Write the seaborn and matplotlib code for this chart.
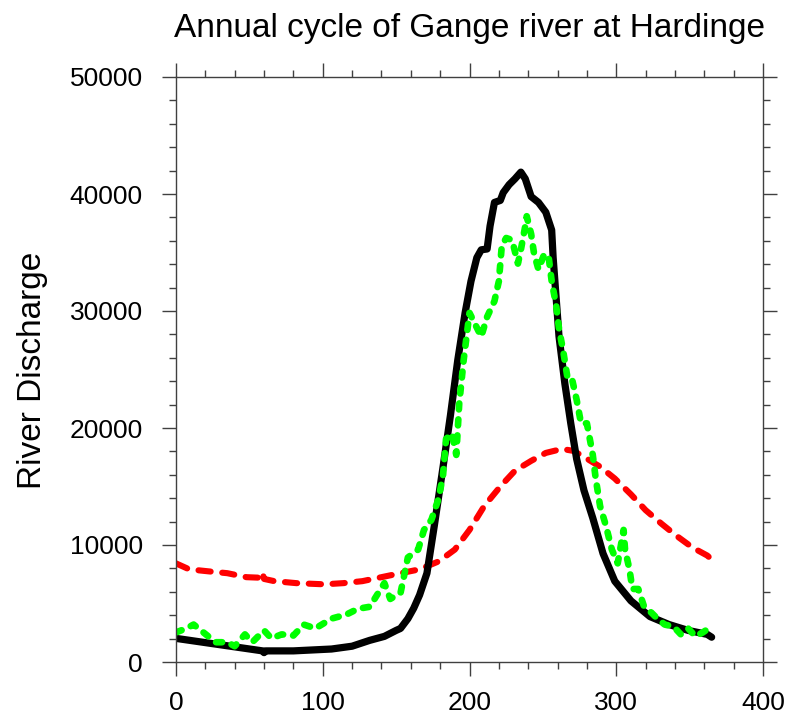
import matplotlib
matplotlib.use('Agg')
import matplotlib.pyplot as plt
import seaborn as sns
from matplotlib.ticker import MultipleLocator

sns.set_style('white')
plt.rcParams['font.family'] = ['Liberation Sans', 'DejaVu Sans']
plt.rcParams['text.color'] = 'black'
plt.rcParams['xtick.color'] = 'black'
plt.rcParams['ytick.color'] = 'black'

title = "Annual cycle of Gange river at Hardinge"
ylabel = "River Discharge"
xticks = [0, 100, 200, 300, 400]
yticks = [0, 10000, 20000, 30000, 40000, 50000]

# Observed discharge (black solid)
obs_day = [0, 59, 60, 61, 80, 106, 120, 132, 142, 150, 153, 158, 162, 166, 171, 176,
           182, 187, 192, 197, 201, 205, 208, 212, 214, 217, 221, 223, 227, 231,
           235, 238, 242, 247, 252, 256, 257, 259, 261, 265, 269, 273, 278, 284,
           291, 299, 310, 323, 336, 349, 362, 365]
obs_q = [2020, 950, 800, 950, 950, 1110, 1350, 1850, 2190, 2700, 2870, 3700, 4600,
         5730, 7590, 11630, 16690, 21070, 25800, 29840, 32540, 34560, 35230, 35300,
         37260, 39280, 39450, 40120, 40800, 41300, 41870, 41300, 39780, 39280,
         38440, 36920, 34560, 31190, 27820, 23770, 20400, 17360, 14670, 12310,
         9270, 6910, 5230, 3880, 3200, 2700, 2360, 2120]

# Model 1 (green short dashes)
m1_day = [0, 7, 12, 17, 22, 27, 35, 40, 47, 52, 60, 65, 72, 80, 87, 95, 106, 116,
          124, 132, 137, 142, 146, 153, 158, 165, 169, 174, 179, 182, 184, 188,
          191, 193, 196, 200, 204, 208, 212, 217, 220, 222, 225, 229, 233, 235,
          238, 239, 242, 244, 247, 251, 254, 256, 259, 261, 264, 267, 270, 273,
          276, 280, 282, 284, 286, 289, 293, 297, 301, 305, 306, 309, 311, 315,
          319, 324, 328, 333, 339, 344, 349, 354, 359, 363]
m1_q = [2530, 2870, 3200, 2700, 2190, 1690, 1690, 1350, 2360, 1690, 2700, 2020,
        2360, 2260, 3200, 2870, 3710, 4050, 4550, 4720, 5730, 6740, 5390, 5900,
        8930, 9610, 11290, 12140, 13990, 16010, 19050, 19550, 17700, 22080,
        25790, 29840, 28830, 27810, 29500, 30850, 32540, 35570, 36240, 36070,
        34050, 35230, 37260, 38100, 36580, 34900, 33550, 34900, 34560, 32540,
        30510, 28490, 26470, 24110, 24110, 22420, 20400, 20400, 19050, 17700,
        15680, 13320, 11630, 9610, 8430, 11290, 9610, 7920, 6240, 6240, 4720,
        4210, 3710, 3200, 3030, 2360, 2870, 2190, 2530, 2870]

# Model 2 (red dashes)
m2_day = [0, 9, 22, 35, 48, 58, 59, 60, 67, 82, 101, 114, 127, 140, 153, 166, 179,
          190, 200, 210, 221, 231, 242, 252, 263, 271, 278, 289, 299, 310, 320,
          331, 341, 352, 362, 365]
m2_q = [8430, 7920, 7750, 7590, 7250, 7200, 7600, 7100, 6910, 6740, 6640, 6740,
        6910, 7250, 7590, 7920, 8600, 9610, 11290, 13320, 15000, 16350, 17190,
        17870, 18210, 18040, 17530, 16690, 15680, 14330, 12980, 11800, 10790,
        9780, 9100, 8770]

W, H = 787, 722
fig = plt.figure(figsize=(W / 100, H / 100), dpi=100)
ax = fig.add_axes([176 / W, 60 / H, 587 / W, 585 / H])

sns.lineplot(x=m2_day, y=m2_q, ax=ax, color='#ff0000', linewidth=4.4,
             linestyle=(0, (2.0, 1.9)), dash_capstyle='round', sort=False)
sns.lineplot(x=obs_day, y=obs_q, ax=ax, color='black', linewidth=5.2,
             solid_capstyle='round', solid_joinstyle='round', sort=False)
sns.lineplot(x=m1_day, y=m1_q, ax=ax, color='#00ff00', linewidth=4.8,
             linestyle=(0, (0.9, 1.5)), dash_capstyle='round', sort=False)

ax.set_xlim(0, 400)
ax.set_ylim(0, 50000)
ax.set_xticks(xticks)
ax.set_xticklabels([str(v) for v in xticks])
ax.set_yticks(yticks)
ax.set_yticklabels([str(v) for v in yticks])
ax.xaxis.set_minor_locator(MultipleLocator(20))
ax.yaxis.set_minor_locator(MultipleLocator(2000))
ax.set_xlabel('')
ax.set_ylabel('')

edge = '#404040'
for s in ax.spines.values():
    s.set_visible(True)
    s.set_color(edge)
    s.set_linewidth(1.0)
ax.tick_params(which='both', direction='out', top=True, right=True,
               bottom=True, left=True, color=edge, width=1.0,
               labeltop=False, labelright=False, labelcolor='black')
ax.tick_params(which='major', length=10, labelsize=19)
ax.tick_params(which='minor', length=5)
ax.tick_params(axis='x', which='major', pad=11)
ax.tick_params(axis='y', which='major', pad=14)

fig.text(469.5 / W, 1 - 37.5 / H, title, ha='center', va='baseline', fontsize=24,
         color='black')
fig.text(33 / W, 1 - 370 / H, ylabel, ha='center', va='center', rotation=90,
         fontsize=24, color='black')

fig.savefig('out.png', dpi=100)
